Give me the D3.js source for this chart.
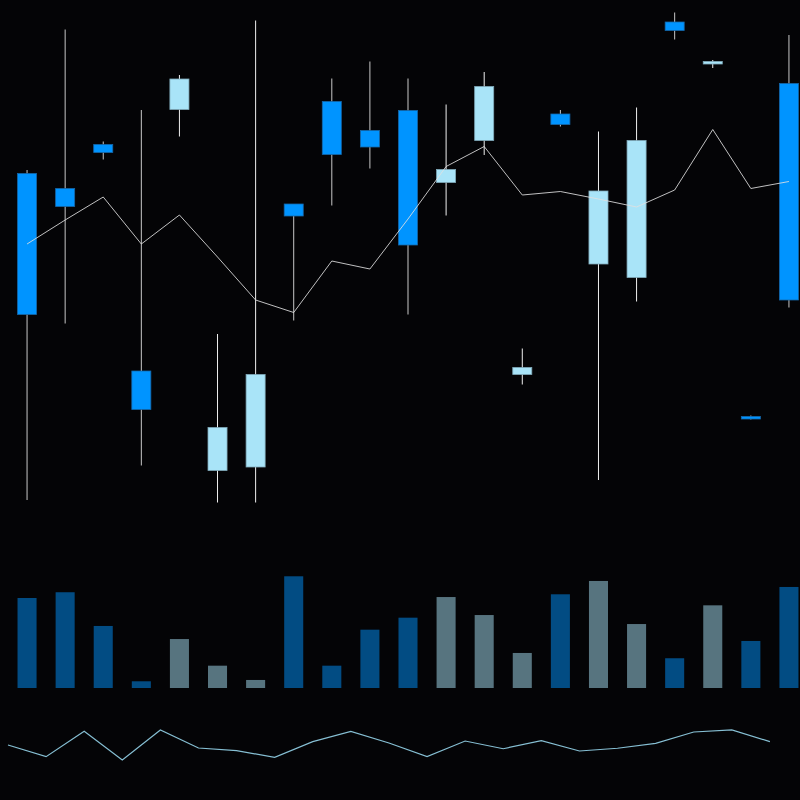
<!DOCTYPE html>
<html>
<head>
<meta charset="utf-8">
<script src="https://cdn.jsdelivr.net/npm/d3@7"></script>
<style>
  html, body { margin: 0; padding: 0; background: #040406; }
  svg { display: block; }
</style>
</head>
<body>
<svg id="chart" width="800" height="800"></svg>
<script>
// candle data (price units), blue = falling, light = rising
const opens  = [67.3, 64.3, 73.1, 27.8, 80.1, 7.9, 8.6, 61.2, 81.7, 75.9, 79.9, 65.5, 73.9, 27.1, 79.2, 49.2, 46.5, 97.6, 89.2, 18.7, 85.3];
const highs  = [68.0, 96.1, 73.7, 80.0, 87.0, 35.2, 97.9, 61.2, 86.3, 89.7, 86.3, 81.1, 87.6, 32.3, 80.0, 75.7, 80.5, 99.5, 90.0, 18.9, 95.0];
const lows   = [2.0, 37.3, 70.1, 8.9, 74.7, 1.5, 1.5, 37.9, 60.9, 68.3, 39.1, 58.9, 71.0, 25.1, 76.7, 6.0, 41.7, 94.1, 88.4, 18.1, 40.5];
const closes = [39.1, 60.7, 71.5, 20.1, 86.2, 16.5, 27.1, 58.8, 71.1, 72.6, 53.0, 68.1, 84.7, 28.5, 77.1, 63.8, 73.9, 95.9, 89.7, 18.2, 42.0];

// overlay line on the price panel
const avgLine = [53.2, 58.0, 62.6, 53.2, 59.0, 50.6, 42.0, 39.5, 49.8, 48.2, 58.2, 68.7, 72.7, 63.0, 63.7, 62.2, 60.6, 64.0, 76.1, 64.3, 65.7];

// volume panel
const volumes = [75.0, 79.8, 51.7, 5.6, 40.8, 18.6, 6.7, 93.1, 18.6, 48.6, 58.6, 75.8, 60.8, 29.2, 78.1, 89.2, 53.3, 24.8, 68.9, 39.2, 84.2];

// lower indicator line
const indicator = [46.7, 31.1, 64.9, 26.7, 66.7, 42.7, 39.1, 30.3, 51.1, 64.9, 49.3, 31.1, 52.0, 41.7, 52.4, 38.7, 42.3, 48.9, 64.0, 66.7, 51.1];

const idx = d3.range(opens.length);
const candles = idx.map((i) => ({
    i, open: opens[i], high: highs[i], low: lows[i], close: closes[i], vol: volumes[i],
}));

const upColor = '#a9e4f8';
const downColor = '#0094ff';

const svg = d3.select('#chart');
svg.append('rect').attr('width', 800).attr('height', 800).attr('fill', '#040406');

const xScale = d3.scaleBand()
    .domain(idx)
    .range([8, 808])
    .padding(0);
const bw = xScale.bandwidth();
const bodyW = bw * 0.5;
const cx = (i) => xScale(i) + bw / 2;

const yPrice = d3.scaleLinear().domain([0, 100]).range([510, 10]);
const yVol = d3.scaleLinear().domain([0, 100]).range([688, 568]);
const yInd = d3.scaleLinear().domain([0, 100]).range([780, 705]);

const isUp = (d) => d.close >= d.open;

// Volume bars
svg.append('g')
    .selectAll('rect')
    .data(candles)
    .join('rect')
    .attr('x', (d) => cx(d.i) - bodyW / 2)
    .attr('y', (d) => yVol(d.vol))
    .attr('width', bodyW)
    .attr('height', (d) => yVol(0) - yVol(d.vol))
    .attr('fill', (d) => (isUp(d) ? upColor : downColor))
    .attr('opacity', 0.5);

// Wicks
svg.append('g')
    .selectAll('line')
    .data(candles)
    .join('line')
    .attr('x1', (d) => cx(d.i))
    .attr('x2', (d) => cx(d.i))
    .attr('y1', (d) => yPrice(d.high))
    .attr('y2', (d) => yPrice(d.low))
    .attr('stroke', (d) => (isUp(d) ? '#f0f0f0' : '#c8c8c8'))
    .attr('stroke-width', 1);

// Bodies
svg.append('g')
    .selectAll('rect')
    .data(candles)
    .join('rect')
    .attr('x', (d) => cx(d.i) - bodyW / 2)
    .attr('y', (d) => yPrice(Math.max(d.open, d.close)))
    .attr('width', bodyW)
    .attr('height', (d) => Math.max(1.5, Math.abs(yPrice(d.open) - yPrice(d.close))))
    .attr('fill', (d) => (isUp(d) ? upColor : downColor))
    .attr('stroke', (d) => (isUp(d) ? '#7fa9b8' : '#1566a8'))
    .attr('stroke-width', 0.8);

// Overlay line
const avgPath = d3.line()
    .x((d, i) => cx(i))
    .y((d) => yPrice(d));
svg.append('path')
    .attr('d', avgPath(avgLine))
    .attr('fill', 'none')
    .attr('stroke', '#e0e0e0')
    .attr('stroke-opacity', 0.85)
    .attr('stroke-width', 1);

// Indicator line
const indPath = d3.line()
    .x((d, i) => xScale(i))
    .y((d) => yInd(d));
svg.append('path')
    .attr('d', indPath(indicator))
    .attr('fill', 'none')
    .attr('stroke', '#86bfd3')
    .attr('stroke-width', 1.2);
</script>
</body>
</html>
